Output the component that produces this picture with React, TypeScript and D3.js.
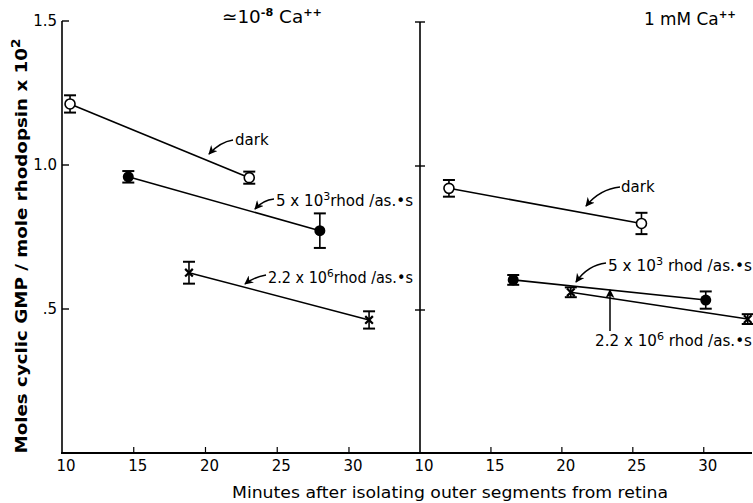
import React from "react";
import * as d3 from "d3";

// ---- data ----
const panelTitles = ["≃10", "1 mM Ca"];
const xTicks = [10, 15, 20, 25, 30];
const yTicks = [0.5, 1.0, 1.5];
const yTickLabels = [".5", "1.0", "1.5"];

// Low Ca (≈10^-8) panel
const lowDarkMin = [10.56, 23.05];
const lowDarkVal = [1.212, 0.956];
const lowDarkErr = [0.03, 0.021];
const low5e3Min = [14.62, 27.97];
const low5e3Val = [0.959, 0.772];
const low5e3Err = [0.02, 0.06];
const low22e6Min = [18.85, 31.4];
const low22e6Val = [0.626, 0.462];
const low22e6Err = [0.038, 0.03];

// 1 mM Ca panel
const hiDarkMin = [12.04, 25.61];
const hiDarkVal = [0.919, 0.797];
const hiDarkErr = [0.029, 0.037];
const hi5e3Min = [16.57, 30.14];
const hi5e3Val = [0.601, 0.531];
const hi5e3Err = [0.017, 0.03];
const hi22e6Min = [20.63, 33.1];
const hi22e6Val = [0.558, 0.465];
const hi22e6Err = [0.017, 0.017];

type Series = { mins: number[]; vals: number[]; errs: number[]; marker: "open" | "filled" | "x" };

const lowSeries: Series[] = [
  { mins: lowDarkMin, vals: lowDarkVal, errs: lowDarkErr, marker: "open" },
  { mins: low5e3Min, vals: low5e3Val, errs: low5e3Err, marker: "filled" },
  { mins: low22e6Min, vals: low22e6Val, errs: low22e6Err, marker: "x" },
];
const hiSeries: Series[] = [
  { mins: hiDarkMin, vals: hiDarkVal, errs: hiDarkErr, marker: "open" },
  { mins: hi5e3Min, vals: hi5e3Val, errs: hi5e3Err, marker: "filled" },
  { mins: hi22e6Min, vals: hi22e6Val, errs: hi22e6Err, marker: "x" },
];

const FONT = "'DejaVu Sans', sans-serif";

const W = 753;
const H = 503;

const y = d3.scaleLinear().domain([0, 1.5]).range([453, 21]);
const xLow = d3.scaleLinear().domain([10, 34.95]).range([62, 420]);
const xHi = d3.scaleLinear().domain([10, 33.4]).range([420, 752]);

function SeriesMarks({ s, x }: { s: Series; x: d3.ScaleLinear<number, number> }) {
  const line = d3
    .line<number>()
    .x((_, i) => x(s.mins[i]))
    .y((v) => y(v));
  const cap = 6;
  return (
    <g>
      <path d={line(s.vals) || ""} fill="none" stroke="#000" strokeWidth={1.6} />
      {s.vals.map((v, i) => {
        const cx = x(s.mins[i]);
        const cy = y(v);
        const top = y(v + s.errs[i]);
        const bot = y(v - s.errs[i]);
        return (
          <g key={i}>
            <line x1={cx} x2={cx} y1={top} y2={bot} stroke="#000" strokeWidth={1.6} />
            <line x1={cx - cap} x2={cx + cap} y1={top} y2={top} stroke="#000" strokeWidth={2} />
            <line x1={cx - cap} x2={cx + cap} y1={bot} y2={bot} stroke="#000" strokeWidth={2} />
            {s.marker === "open" && (
              <circle cx={cx} cy={cy} r={5} fill="#fff" stroke="#000" strokeWidth={1.6} />
            )}
            {s.marker === "filled" && <circle cx={cx} cy={cy} r={5.5} fill="#000" />}
            {s.marker === "x" && (
              <path
                d={d3.symbol(d3.symbolTimes, 40)() || ""}
                transform={`translate(${cx},${cy})`}
                fill="none"
                stroke="#000"
                strokeWidth={2.2}
              />
            )}
          </g>
        );
      })}
    </g>
  );
}

function XAxis({ x, skipFirstTick }: { x: d3.ScaleLinear<number, number>; skipFirstTick?: boolean }) {
  return (
    <g>
      {xTicks.map((t, i) => (
        <g key={t}>
          {!(skipFirstTick && i === 0) && (
            <line x1={x(t)} x2={x(t)} y1={453} y2={447} stroke="#000" strokeWidth={1.2} />
          )}
          <text x={x(t) + 4} y={471} textAnchor="middle" fontFamily={FONT} fontSize={15}>
            {t}
          </text>
        </g>
      ))}
    </g>
  );
}

function RateLabel({ x0, yb, exp, len, spaced }: { x0: number; yb: number; exp: string; len: number; spaced?: boolean }) {
  const mant = exp === "3" ? "5 x 10" : "2.2 x 10";
  return (
    <text x={x0} y={yb} fontFamily={FONT} fontSize={15} textLength={len} lengthAdjust="spacingAndGlyphs">
      {mant}
      <tspan fontSize={11} dy={-6}>{exp}</tspan>
      <tspan dy={6}>{spaced ? " rhod /as.•s" : "rhod /as.•s"}</tspan>
    </text>
  );
}

export default function App() {
  return (
    <svg
      width={W}
      height={H}
      style={{ position: "absolute", left: 0, top: 0, background: "#fff" }}
      fontFamily={FONT}
    >
      <defs>
        <marker
          id="ah"
          viewBox="0 0 10 10"
          refX={9}
          refY={5}
          markerWidth={9}
          markerHeight={9}
          markerUnits="userSpaceOnUse"
          orient="auto"
        >
          <path d="M0,0 L10,5 L0,10 L3,5 Z" fill="#000" />
        </marker>
      </defs>
      <rect width={W} height={H} fill="#fff" />

      {/* left y axis */}
      <line x1={62} x2={62} y1={y(1.5)} y2={y(0)} stroke="#000" strokeWidth={1.6} />
      {yTicks.map((t, i) => (
        <g key={t}>
          <line x1={62} x2={69} y1={y(t)} y2={y(t)} stroke="#000" strokeWidth={1.4} />
          <text x={57} y={y(t) + 5} textAnchor="end" fontSize={15}>
            {yTickLabels[i]}
          </text>
        </g>
      ))}

      {/* middle axis */}
      <line x1={420} x2={420} y1={y(1.5) + 1} y2={y(0)} stroke="#000" strokeWidth={1.6} />
      {yTicks.map((t) => (
        <line key={t} x1={415} x2={425} y1={y(t) + 1} y2={y(t) + 1} stroke="#000" strokeWidth={1.4} />
      ))}

      {/* bottom axis */}
      <line x1={61} x2={752} y1={453} y2={453} stroke="#000" strokeWidth={2.2} />
      <XAxis x={xLow} skipFirstTick />
      <XAxis x={xHi} skipFirstTick />

      <text x={450} y={498} textAnchor="middle" fontSize={16} textLength={436} lengthAdjust="spacingAndGlyphs">
        Minutes after isolating outer segments from retina
      </text>

      <text
        transform="translate(27,246) rotate(-90)"
        textAnchor="middle"
        fontSize={16}
        fontWeight="bold"
        textLength={415}
        lengthAdjust="spacingAndGlyphs"
      >
        Moles cyclic GMP / mole rhodopsin x 10
        <tspan fontSize={12} dy={-7}>2</tspan>
      </text>

      {/* panel titles */}
      <text x={222} y={23} fontSize={18} textLength={100} lengthAdjust="spacingAndGlyphs">
        {panelTitles[0]}
        <tspan fontSize={11} fontWeight="bold" dy={-7}>-8</tspan>
        <tspan dy={7}> Ca</tspan>
        <tspan fontSize={11} fontWeight="bold" dy={-7}>++</tspan>
      </text>
      <text x={644} y={25} fontSize={18} textLength={92} lengthAdjust="spacingAndGlyphs">
        {panelTitles[1]}
        <tspan fontSize={11} fontWeight="bold" dy={-7}>++</tspan>
      </text>

      {/* data */}
      {lowSeries.map((s, i) => (
        <SeriesMarks key={"l" + i} s={s} x={xLow} />
      ))}
      {hiSeries.map((s, i) => (
        <SeriesMarks key={"h" + i} s={s} x={xHi} />
      ))}

      {/* annotations, left */}
      <text x={235} y={145} fontSize={15}>dark</text>
      <path d="M233,140 Q220,142 209,154" fill="none" stroke="#000" strokeWidth={1.5} markerEnd="url(#ah)" />
      <RateLabel x0={276} yb={206} exp="3" len={137} />
      <path d="M274,199 Q263,200 255,209" fill="none" stroke="#000" strokeWidth={1.5} markerEnd="url(#ah)" />
      <RateLabel x0={268} yb={283} exp="6" len={145} />
      <path d="M266,275 Q254,277 245,284" fill="none" stroke="#000" strokeWidth={1.5} markerEnd="url(#ah)" />

      {/* annotations, right */}
      <text x={621} y={192} fontSize={15}>dark</text>
      <path d="M620,187 Q600,189 586,206" fill="none" stroke="#000" strokeWidth={1.5} markerEnd="url(#ah)" />
      <RateLabel x0={608} yb={271} exp="3" len={144} spaced />
      <path d="M606,263 Q588,265 576,282" fill="none" stroke="#000" strokeWidth={1.5} markerEnd="url(#ah)" />
      <RateLabel x0={595} yb={346} exp="6" len={157} spaced />
      <path d="M610,331 L610,290" fill="none" stroke="#000" strokeWidth={1.5} markerEnd="url(#ah)" />
    </svg>
  );
}
